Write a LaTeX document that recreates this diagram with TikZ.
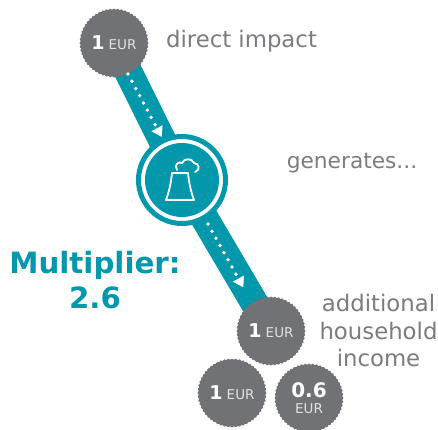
\documentclass[tikz,border=0pt]{standalone}
\usepackage{fontspec}
\setmainfont{DejaVu Sans}
\usetikzlibrary{shapes.geometric,arrows.meta,backgrounds}
\definecolor{tealx}{RGB}{0,152,170}
\definecolor{coingray}{RGB}{112,114,117}
\definecolor{labelgray}{RGB}{122,124,127}
\definecolor{eurgray}{RGB}{225,226,227}
\tikzset{
  coin/.style={star,star points=56,star point ratio=1.035,minimum size=69pt,inner sep=0pt,fill=coingray,text=white,align=center},
  band/.style={draw=tealx,line width=28pt},
  flow/.style={white,line width=3.8pt,line cap=round,dash pattern=on 0pt off 8.2pt,-{Triangle[width=12pt,length=10pt,line cap=butt]}},
  lab/.style={text=labelgray,font=\fontsize{22.8}{27.5}\selectfont,align=center,inner sep=0pt},
  multi/.style={text=tealx,font=\fontsize{29.3}{35}\selectfont\bfseries,align=center,inner sep=0pt},
  hubring/.style={circle,draw=tealx,fill=white,line width=5pt,minimum size=87pt,inner sep=0pt},
  hubcore/.style={circle,fill=tealx,minimum size=74pt,inner sep=0pt},
  icon/.style={draw=white,line width=1.8pt,line join=round,line cap=round},
}
\newcommand{\coinlab}[1]{{\fontsize{19}{19}\selectfont\bfseries #1}\hspace{4pt}{\fontsize{13.5}{19}\selectfont\textcolor{eurgray}{EUR}}}
\begin{document}
\begin{tikzpicture}[x=1pt,y=-1pt]
\useasboundingbox (0,0) rectangle (438,429);
\node[coin] (c1) at (114,43) {\coinlab{1}};
\node[hubring] (hub) at (182,180) {};
\node[hubcore] (core) at (182,180) {};
\node[coin] (c2) at (271,331) {\coinlab{1}};
\node[coin] (c3) at (232,393) {\coinlab{1}};
\node[coin] (c4) at (309,398) {{\fontsize{20}{20}\selectfont\bfseries 0.6}\\[4pt]{\fontsize{13.5}{14}\selectfont\textcolor{eurgray}{EUR}}};
\begin{scope}[on background layer]
  \fill[white] (0,0) rectangle (438,429);
  \draw[band] (c1.center) -- (hub.center);
  \draw[band] (hub.center) -- (c2.center);
\end{scope}
\coordinate (f1s) at (128,74);
\coordinate (f1e) at (161.7,137);
\coordinate (f2s) at (208,224);
\coordinate (f2e) at (243.3,287.3);
\draw[flow] (f1s) -- (f1e);
\draw[flow] (f2s) -- (f2e);
\draw[icon] (172,173) .. controls (171,183) and (169,192) .. (166,200) -- (194,200) .. controls (191,192) and (189,183) .. (188,173) -- cycle;
\draw[icon] (177,170) .. controls (174,165) and (178,161) .. (182,163) .. controls (184,158) and (192,158) .. (194,163) .. controls (199,163) and (201,170) .. (195,172);
\node[lab] (t1) at (241.5,41.5) {direct impact};
\node[lab,font=\fontsize{21.7}{27.5}\selectfont] (t2) at (352,163) {generates...};
\node[lab] (t3) at (378.5,330.5) {additional\\household\\income};
\node[multi] (m) at (95,280.5) {Multiplier:\\2.6};
\end{tikzpicture}
\end{document}
